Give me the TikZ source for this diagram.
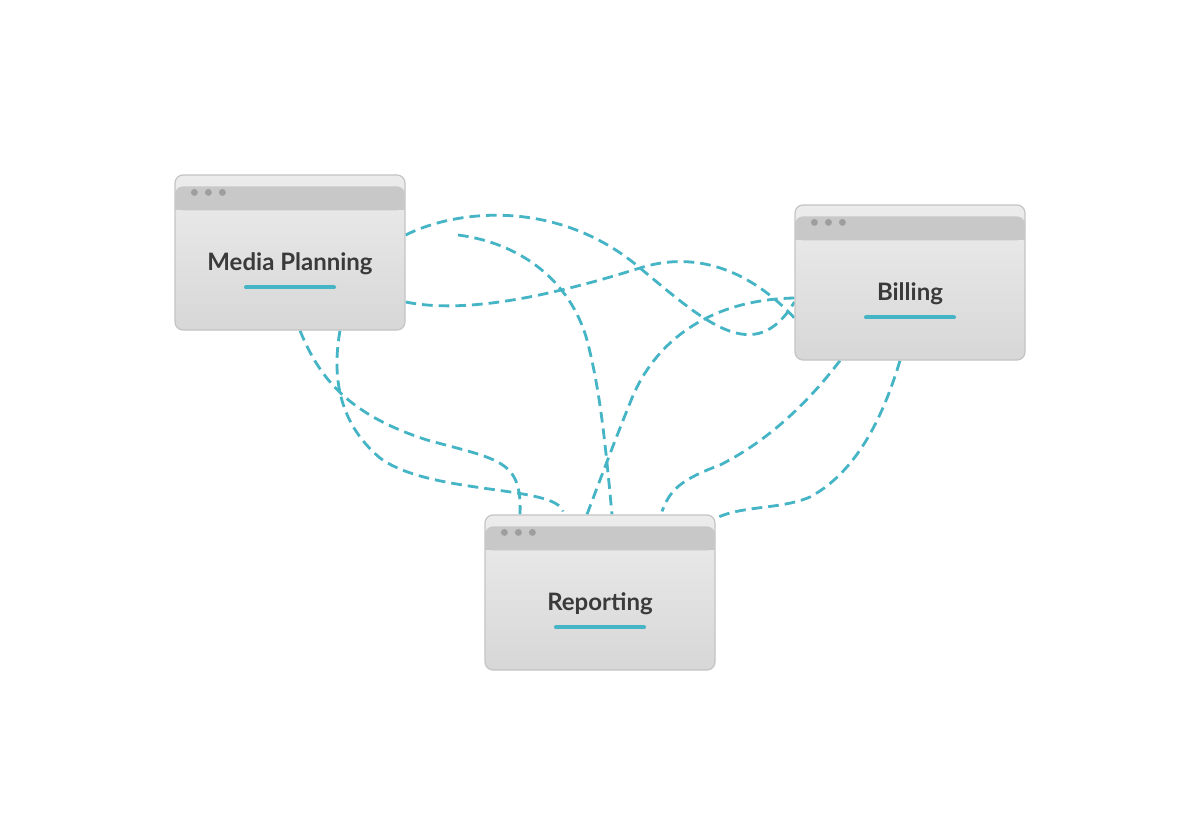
\documentclass[tikz,border=0pt]{standalone}
\usepackage{fontspec}
\setmainfont{Lato}
\usetikzlibrary{calc}
\definecolor{teal}{RGB}{69,180,197}
\definecolor{boxborder}{RGB}{196,196,196}
\definecolor{hdr}{RGB}{200,200,200}
\definecolor{dotc}{RGB}{158,158,158}
\definecolor{txt}{RGB}{58,58,58}
\pgfdeclarelayer{bg}
\pgfsetlayers{bg,main}
\tikzset{
  window/.style={rectangle, rounded corners=6pt, minimum width=172.5pt, minimum height=116.25pt,
    draw=boxborder, line width=0.9pt, top color={rgb,255:red,236;green,236;blue,236},
    bottom color={rgb,255:red,215;green,215;blue,215}, inner sep=0pt},
  wtitle/.style={anchor=base, text=txt, font=\fontsize{18}{22}\selectfont\bfseries, inner sep=0pt},
  wbar/.style={draw=teal, line width=3pt, line cap=round},
  link/.style={draw=teal, line width=2.1pt, dash pattern=on 8pt off 4.5pt}
}
\newcommand{\wdeco}[2]{%
  \fill[hdr, rounded corners=6pt] ($(#1.north west)+(0.6,12)$) rectangle ($(#1.north east)+(-0.6,36)$);
  \fill[hdr] ($(#1.north west)+(0.6,24)$) rectangle ($(#1.north east)+(-0.6,36)$);
  \foreach \dx in {20,34,48} \fill[dotc] ($(#1.north west)+(\dx,18)$) circle (2.6pt);
  \node[wtitle] (#1t) at ($(#1.north)+(0,96)$) {#2};
  \draw[wbar] ($(#1.north)+(-44,113)$) -- ($(#1.north)+(44,113)$);
}
\begin{document}
\begin{tikzpicture}[x=0.75pt,y=-0.75pt]
\useasboundingbox (0,0) rectangle (1200,820);

\node[window] (mp) at (290,252.5) {};
\node[window] (bill) at (910,282.5) {};
\node[window] (rep) at (600,592.5) {};
\wdeco{mp}{Media Planning}
\wdeco{bill}{Billing}
\wdeco{rep}{Reporting}

\coordinate (bfree) at (458,235);

\begin{pgfonlayer}{bg}
\fill[white] (0,0) rectangle (1200,820);
% A: Media Planning -> Billing (upper S)
\draw[link] ($(mp.east)+(0,-17.5)$) .. controls (460,208) and (560,200) .. (640,268)
  .. controls (705,322) and (755,368) .. ($(bill.west)+(0,19.5)$);
% B: free end -> Reporting
\draw[link] (bfree) .. controls (520,243) and (570,280) .. (587,340)
  .. controls (600,390) and (605,440) .. ($(rep.north)+(12,0)$);
% C: Media Planning -> Billing (lower)
\draw[link] ($(mp.east)+(0,49.5)$) .. controls (470,315) and (560,293) .. (640,268)
  .. controls (690,252) and (745,265) .. ($(bill.west)+(0,35.5)$);
% D: Reporting -> Billing
\draw[link] ($(rep.north)+(-13,0)$) .. controls (600,480) and (615,440) .. (630,403)
  .. controls (650,350) and (700,300) .. ($(bill.west)+(0,15.5)$);
% E: Media Planning -> Reporting
\draw[link] ($(mp.south)+(10,0)$) .. controls (320,380) and (350,415) .. (427,440)
  .. controls (500,460) and (522,460) .. ($(rep.north)+(-80,0)$);
% F: Media Planning -> Reporting
\draw[link] ($(mp.south)+(50,0)$) .. controls (333,370) and (335,420) .. (380,458)
  .. controls (430,495) and (555,485) .. ($(rep.north)+(-37,-3)$);
% G: Billing -> Reporting
\draw[link] ($(bill.south)+(-70,0)$) .. controls (810,400) and (770,440) .. (720,465)
  .. controls (680,480) and (670,490) .. ($(rep.north)+(62,-3)$);
% H: Billing -> Reporting
\draw[link] ($(bill.south)+(-10,0)$) .. controls (885,410) and (860,470) .. (810,497)
  .. controls (780,510) and (740,505) .. ($(rep.north east)+(-2,5)$);
\end{pgfonlayer}
\end{tikzpicture}
\end{document}
